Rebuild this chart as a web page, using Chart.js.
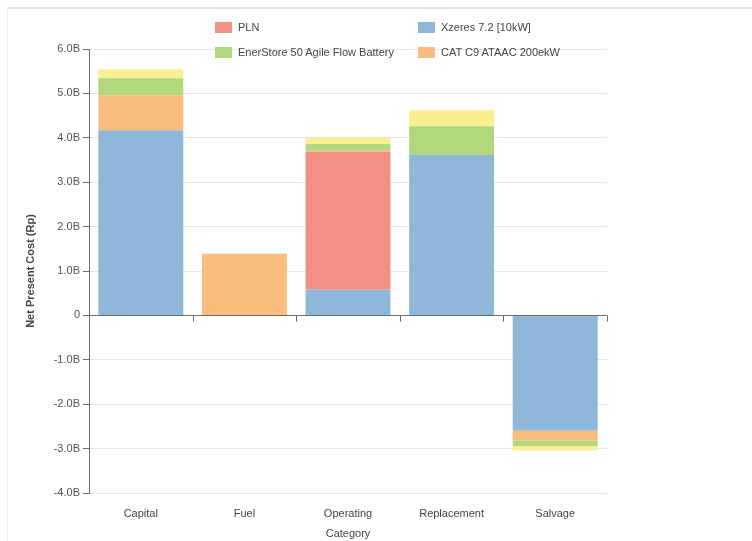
<!DOCTYPE html>
<html>
<head>
<meta charset="utf-8">
<script src="https://cdn.jsdelivr.net/npm/chart.js@4/dist/chart.umd.min.js"></script>
<style>
  html, body { margin: 0; padding: 0; background: #fff; }
  #wrap { position: relative; width: 752px; height: 541px; overflow: hidden; }
  #frame { position: absolute; left: 7px; top: 7px; width: 800px; height: 600px;
           border-top: 2px solid #e4e4e4; border-left: 1px solid #ececec; }
  #chart { position: absolute; left: 0; top: 0; }
  #legend { position: absolute; left: 0; top: 0; font: 11px "Liberation Sans", Arial, sans-serif; color: #444; }
  .item { position: absolute; white-space: nowrap; line-height: 12px; }
  .item span.box { display: inline-block; width: 17px; height: 11px; vertical-align: -2px; margin-right: 6px; }
</style>
</head>
<body>
<div id="wrap">
  <div id="frame"></div>
  <canvas id="chart" width="752" height="541"></canvas>
  <div id="legend"></div>
</div>
<script>
// net present cost per category, in billions of Rp
var categories = ['Capital', 'Fuel', 'Operating', 'Replacement', 'Salvage']
var xzeres    = [4.17, 0,    0.58, 3.61, -2.60]
var pln       = [0,    0,    3.10, 0,     0]
var cat       = [0.79, 1.39, 0.03, 0,    -0.22]
var enerstore = [0.38, 0,    0.15, 0.65, -0.12]
var converter = [0.20, 0,    0.14, 0.36, -0.10]
var yTicks = [-4, -3, -2, -1, 0, 1, 2, 3, 4, 5, 6]

var colors = {
  pln: '#f48f84',
  xzeres: '#8fb7da',
  enerstore: '#b2d87e',
  cat: '#fbbd7d',
  converter: '#fbee90'
}

// zero line with category boundary ticks
var zeroAxis = {
  id: 'zeroAxis',
  afterDatasetsDraw: function(chart) {
    var c = chart.ctx, x = chart.scales.x, y = chart.scales.y
    var y0 = Math.round(y.getPixelForValue(0)) + 0.5
    var half = (x.getPixelForValue(1) - x.getPixelForValue(0)) / 2
    c.save()
    c.strokeStyle = '#6a6a6a'
    c.lineWidth = 1
    c.beginPath()
    c.moveTo(chart.chartArea.left, y0)
    c.lineTo(chart.chartArea.right, y0)
    for (var i = 0; i < categories.length; i++) {
      var bx = Math.round(x.getPixelForValue(i) + half) + 0.5
      c.moveTo(bx, y0)
      c.lineTo(bx, y0 + 6)
    }
    c.stroke()
    c.restore()
  }
}

var font = { family: '"Liberation Sans", Arial, sans-serif', size: 11 }

var ctx = document.getElementById('chart').getContext('2d')
var myChart = new Chart(ctx, {
  type: 'bar',
  data: {
    labels: categories,
    datasets: [
      { label: 'Xzeres 7.2 [10kW]', data: xzeres, backgroundColor: colors.xzeres },
      { label: 'PLN', data: pln, backgroundColor: colors.pln },
      { label: 'CAT C9 ATAAC 200ekW', data: cat, backgroundColor: colors.cat },
      { label: 'EnerStore 50 Agile Flow Battery', data: enerstore, backgroundColor: colors.enerstore },
      { label: 'Converter', data: converter, backgroundColor: colors.converter }
    ]
  },
  options: {
    responsive: false,
    animation: false,
    layout: { padding: { left: 24, top: 49, right: 145, bottom: 0 } },
    datasets: { bar: { barPercentage: 0.82, categoryPercentage: 1, borderWidth: 0 } },
    plugins: { legend: { display: false }, tooltip: { enabled: false } },
    scales: {
      x: {
        stacked: true,
        grid: { display: false },
        border: { display: false },
        ticks: { font: font, color: '#444', padding: 6, maxRotation: 0 },
        title: { display: true, text: 'Category', font: font, color: '#444', padding: { top: 4, bottom: 0 } },
        afterFit: function(s) { s.height = 48 }
      },
      y: {
        stacked: true,
        min: -4,
        max: 6,
        afterBuildTicks: function(s) { s.ticks = yTicks.map(function(v) { return { value: v } }) },
        grid: { color: '#e6e6e6', tickColor: '#6a6a6a', tickLength: 6 },
        border: { color: '#6a6a6a' },
        ticks: {
          font: font, color: '#555', padding: 3,
          callback: function(v) { return v === 0 ? '0' : v.toFixed(1) + 'B' }
        },
        title: { display: true, text: 'Net Present Cost (Rp)', font: { family: font.family, size: 11, weight: 'bold' }, color: '#444', padding: { top: 0, bottom: 4 } },
        afterFit: function(s) { s.width = 65 }
      }
    }
  },
  plugins: [zeroAxis]
})

// two-column legend, built from the datasets
var legendOrder = [1, 0, 3, 2]
var spots = [[215, 21], [418, 21], [215, 46], [418, 46]]
var legend = document.getElementById('legend')
legendOrder.forEach(function(di, k) {
  var ds = myChart.data.datasets[di]
  var el = document.createElement('div')
  el.className = 'item'
  el.style.left = spots[k][0] + 'px'
  el.style.top = spots[k][1] + 'px'
  el.innerHTML = '<span class="box" style="background:' + ds.backgroundColor + '"></span>' + ds.label
  legend.appendChild(el)
})
</script>
</body>
</html>
